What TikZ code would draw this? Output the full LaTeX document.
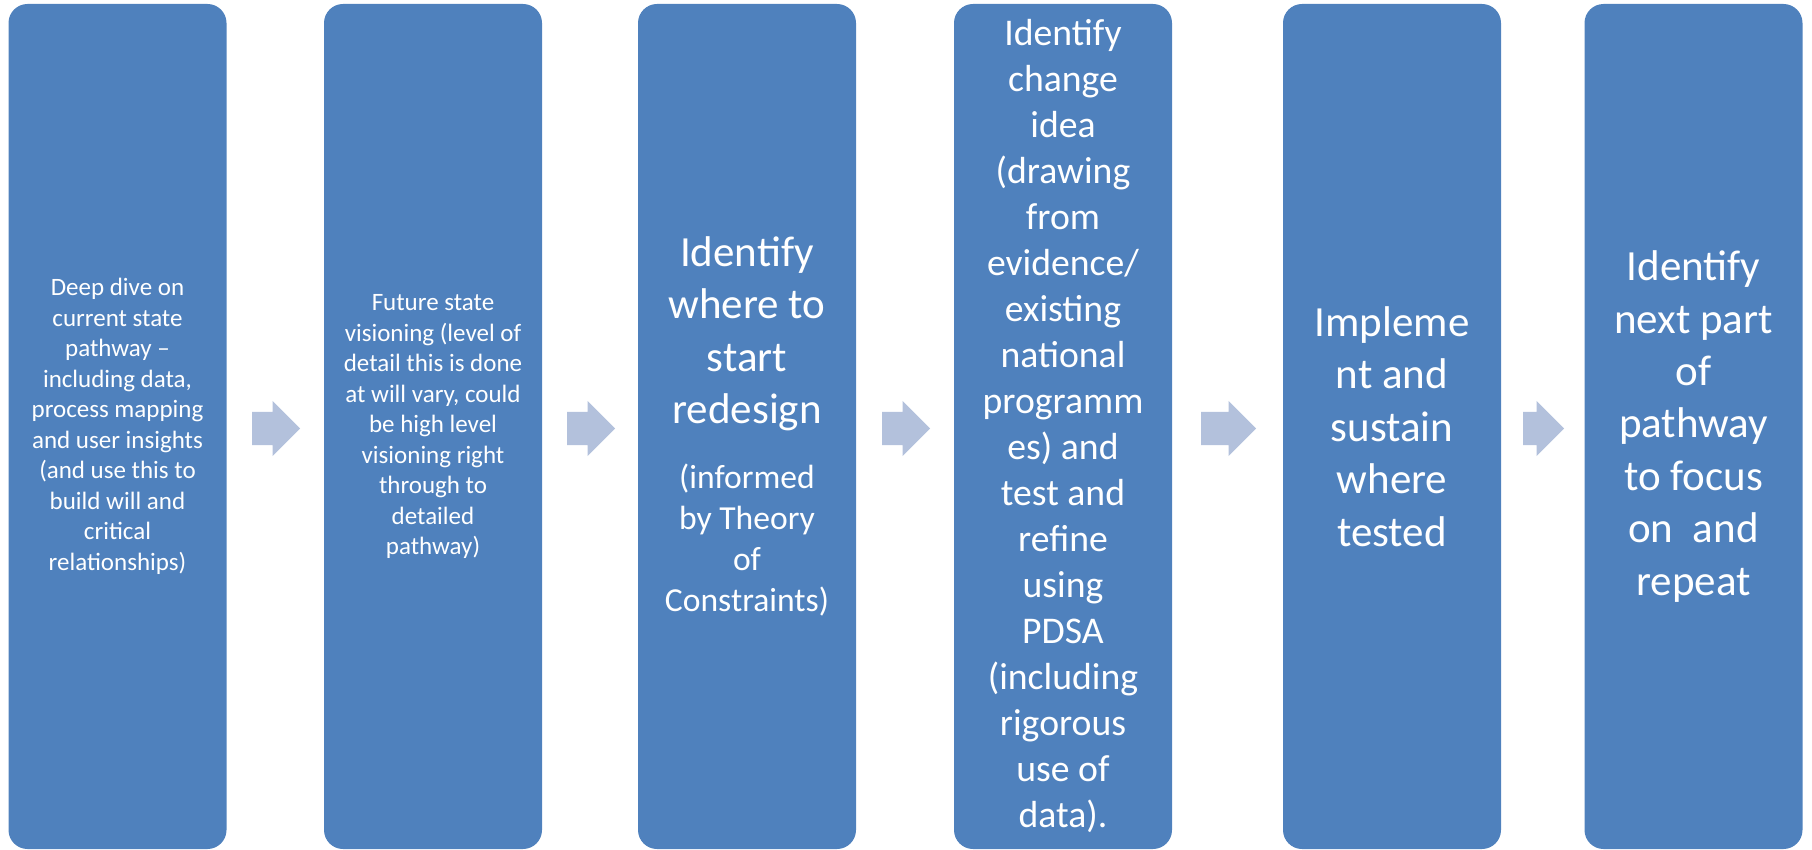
\documentclass[tikz,border=0pt]{standalone}
\usepackage{fontspec}
\setmainfont{Carlito}
\usetikzlibrary{shapes.arrows}
\definecolor{stageblue}{HTML}{4F81BD}
\definecolor{arrowblue}{HTML}{B3C1DC}
\newcommand{\smalltxt}{\fontsize{25}{30.5}\selectfont}
\newcommand{\bigtxt}{\fontsize{43}{52.4}\selectfont}
\newcommand{\midtxt}{\fontsize{37.7}{46}\selectfont}
\newcommand{\notetxt}{\fontsize{33.6}{41}\selectfont}
\begin{document}
\begin{tikzpicture}[x=1pt,y=-1pt,
  stage/.style={rectangle, rounded corners=19pt, fill=stageblue, text=white,
    minimum width=218pt, minimum height=845pt, inner sep=0pt, text width=218pt, align=flush center},
  stagearrow/.style={single arrow, fill=arrowblue, single arrow tip angle=90,
    single arrow head extend=11pt, inner xsep=0pt, inner ysep=16.5pt, anchor=tail}]
\useasboundingbox (0,0) rectangle (1812,850);
\node[stage, font=\smalltxt] (st1) at (117.5,426.5){Deep dive on\\ current state\\ pathway --\\ including data,\\ process mapping\\ and user insights\\ (and use this to\\ build will and\\ critical\\ relationships)\par};
\node[stage, font=\smalltxt] (st2) at (433,426.5){Future state\\ visioning (level of\\ detail this is done\\ at will vary, could\\ be high level\\ visioning right\\ through to\\ detailed\\ pathway)\par};
\node[stage] (st3) at (747,426.5){{\bigtxt Identify\\ where to\\ start\\ redesign\par}\vspace{24pt}{\notetxt (informed\\ by Theory\\ of\\ Constraints)\par}};
\node[stage, font=\midtxt] (st4) at (1063,426.5){Identify\\ change\\ idea\\ (drawing\\ from\\ evidence/\\ existing\\ national\\ programm\\ es) and\\ test and\\ refine\\ using\\ PDSA\\ (including\\ rigorous\\ use of\\ data).\par};
\node[stage, font=\bigtxt] (st5) at (1392,426.5){Impleme\\ nt and\\ sustain\\ where\\ tested\par};
\node[stage, font=\bigtxt] (st6) at (1693.5,426.5){Identify\\ next part\\ of\\ pathway\\ to focus\\ on\ \ and\\ repeat\par};
\node[stagearrow, minimum height=48pt] (ar1) at (252,428.5){};
\node[stagearrow, minimum height=48pt] (ar2) at (567,428.5){};
\node[stagearrow, minimum height=48pt] (ar3) at (882,428.5){};
\node[stagearrow, minimum height=55pt] (ar4) at (1201,428.5){};
\node[stagearrow, minimum height=41pt] (ar5) at (1523,428.5){};
\end{tikzpicture}
\end{document}
